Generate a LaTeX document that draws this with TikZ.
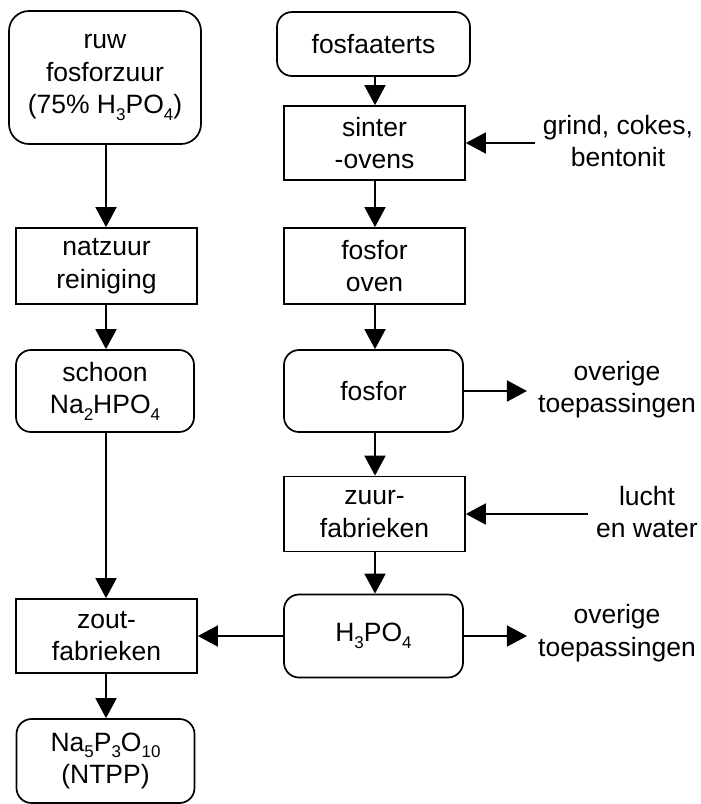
\documentclass[tikz,border=0pt]{standalone}
\usepackage{fontspec}
\setmainfont{Liberation Sans}
\usetikzlibrary{arrows.meta}

% chemical subscript in the text font
\newcommand{\chemsub}[1]{\raisebox{-0.24em}{\fontsize{17}{17}\selectfont #1}}

\begin{document}
\begin{tikzpicture}[x=1pt,y=-1pt,
  every node/.style={font=\fontsize{26.5}{32.5}\selectfont, align=center, inner sep=0pt},
  procbox/.style={draw, line width=1.7pt, minimum width=181pt, minimum height=75pt},
  prodbox/.style={draw, line width=1.7pt, rounded corners=15pt, minimum width=179pt, minimum height=82pt},
  flow/.style={line width=1.7pt, -{Triangle[length=20pt,width=21pt]}}
]
\useasboundingbox (0,0) rectangle (701,804);

% left column, flow line at x = 106
\node[prodbox, rounded corners=20pt, minimum width=192pt, minimum height=133pt] (ruw) at (105,77.5)
  {ruw\\fosforzuur\\(75\% H\chemsub{3}PO\chemsub{4})};
\node[procbox, minimum height=76pt] (natzuur) at (106.5,266) {natzuur\\reiniging};
\node[prodbox, minimum width=178pt] (schoon) at (105,391) {schoon\\Na\chemsub{2}HPO\chemsub{4}};
\node[procbox, minimum height=74pt] (zout) at (106.5,636) {zout-\\fabrieken};
\node[prodbox, minimum width=178pt, minimum height=84pt] (ntpp) at (105.5,761)
  {Na\chemsub{5}P\chemsub{3}O\chemsub{10}\\(NTPP)};

% right column, flow line at x = 375
\node[prodbox, minimum width=193pt, minimum height=64pt] (erts) at (373.5,44) {fosfaaterts};
\node[procbox, minimum height=74pt] (sinter) at (374.5,143) {sinter\\-ovens};
\node[procbox, minimum height=76pt] (oven) at (374.5,266) {fosfor\\oven};
\node[prodbox] (fosfor) at (373.5,391) {fosfor};
\node[procbox] (zuur) at (374.5,514) {zuur-\\fabrieken};
\node[prodbox, minimum height=83pt] (zuurprod) at (373.5,636) {H\chemsub{3}PO\chemsub{4}};

% side inputs and outputs
\node (grind) at (618,141) {grind, cokes,\\bentonit};
\node (ov1) at (617,389.5) {overige\\toepassingen};
\node (lucht) at (647,512) {lucht\\en water};
\node (ov2) at (617,633) {overige\\toepassingen};

% main flows
\draw[flow] (ruw.south -| 106,0) -- (106,0 |- natzuur.north);
\draw[flow] (natzuur.south -| 106,0) -- (106,0 |- schoon.north);
\draw[flow] (schoon.south -| 106,0) -- (106,0 |- zout.north);
\draw[flow] (zout.south -| 106,0) -- (106,0 |- ntpp.north);

\draw[flow] (erts.south -| 375,0) -- (375,0 |- sinter.north);
\draw[flow] (sinter.south -| 375,0) -- (375,0 |- oven.north);
\draw[flow] (oven.south -| 375,0) -- (375,0 |- fosfor.north);
\draw[flow] (fosfor.south -| 375,0) -- (375,0 |- zuur.north);
\draw[flow] (zuur.south -| 375,0) -- (375,0 |- zuurprod.north);

\draw[flow] (zuurprod.west) -- (zout.east);

% side arrows
\draw[flow, shorten <=8pt] (grind.west |- sinter.east) -- (sinter.east);
\draw[flow, shorten >=11pt] (fosfor.east) -- (fosfor.east -| ov1.west);
\draw[flow, shorten <=8pt] (lucht.west |- zuur.east) -- (zuur.east);
\draw[flow, shorten >=11pt] (zuurprod.east) -- (zuurprod.east -| ov2.west);
\end{tikzpicture}
\end{document}
